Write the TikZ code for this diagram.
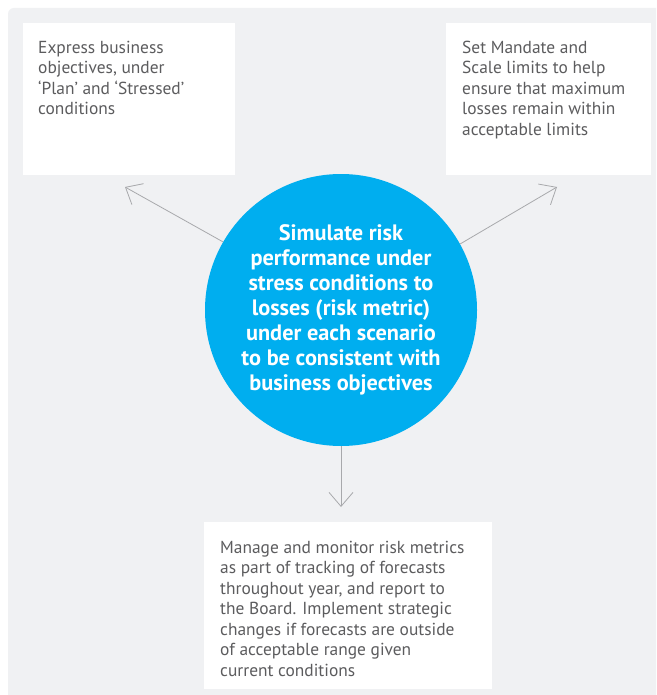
\documentclass[tikz,border=0pt]{standalone}
\usepackage{fontspec}
\setmainfont{PT Sans}
\usetikzlibrary{arrows.meta}
\definecolor{bggray}{HTML}{F0F1F3}
\definecolor{txtgray}{HTML}{5C5C5E}
\definecolor{cyanc}{HTML}{00AEEF}
\definecolor{arrgray}{HTML}{A8A9AC}
\tikzset{
  box/.style={fill=white, draw=none, inner sep=0pt, anchor=north west},
  boxtext/.style={anchor=north west, inner sep=0pt, align=left, text=txtgray,
    font=\fontsize{17.4}{20.5}\selectfont},
  hub/.style={circle, fill=cyanc, draw=none, inner sep=0pt, minimum size=272pt,
    text=white, align=center, font=\bfseries\fontsize{22.3}{25}\selectfont},
  conn/.style={draw=arrgray, line width=0.8pt,
    -{Straight Barb[length=14pt, width=24pt, line width=0.8pt]}}
}
\begin{document}
\begin{tikzpicture}[x=1pt, y=-1pt]
\useasboundingbox (0,0) rectangle (656,695);
\fill[white] (0,0) rectangle (656,695);
\fill[bggray] (8,695) [rounded corners=6pt] -- (8,8) [sharp corners] -- (656,8) -- (656,695) -- cycle;

\node[box, minimum width=212pt, minimum height=152pt] (lbox) at (23,23) {};
\node[box, minimum width=205pt, minimum height=152pt] (rbox) at (446,23) {};
\node[box, minimum width=288pt, minimum height=167pt] (bbox) at (204,522) {};

\node[boxtext] (ltext) at (38,40.5) {Express business\\objectives, under\\‘Plan’ and ‘Stressed’\\conditions};
\node[boxtext] (rtext) at (462,40.5) {Set Mandate and\\Scale limits to help\\ensure that maximum\\losses remain within\\acceptable limits};
\node[boxtext] (btext) at (220,540.5) {Manage and monitor risk metrics\\as part of tracking of forecasts\\throughout year, and report to\\the Board. Implement strategic\\changes if forecasts are outside\\of acceptable range given\\current conditions};

\coordinate (ltip) at (125,187);
\coordinate (rtip) at (557,187);
\coordinate (btip) at (341,507);

\node[hub] (hub) at (341,310) {Simulate risk\\performance under\\stress conditions to\\losses (risk metric)\\under each scenario\\to be consistent with\\business objectives};

\draw[conn] (hub.150.3) -- (ltip);
\draw[conn] (hub.29.7) -- (rtip);
\draw[conn] (hub.south) -- (btip);
\end{tikzpicture}
\end{document}
